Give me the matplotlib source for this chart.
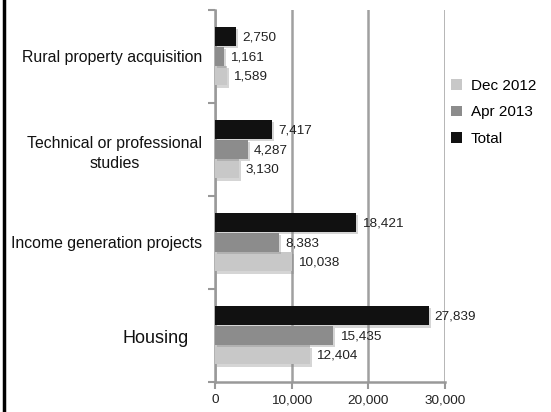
import matplotlib.pyplot as plt
import matplotlib.patheffects as pe
from matplotlib.lines import Line2D
from matplotlib.patches import Patch
import matplotlib.transforms as mtransforms
import numpy as np

plt.rcParams['font.family'] = ['Liberation Sans', 'DejaVu Sans']

categories = ["Housing", "Income generation projects",
              "Technical or professional\nstudies", "Rural property acquisition"]
series_names = ["Dec 2012", "Apr 2013", "Total"]
dec_2012 = [12404, 10038, 3130, 1589]
apr_2013 = [15435, 8383, 4287, 1161]
total = [27839, 18421, 7417, 2750]
x_ticks = [0, 10000, 20000, 30000]
x_tick_labels = ["0", "10,000", "20,000", "30,000"]

colors = ["#c8c8c8", "#8c8c8c", "#111111"]
offsets = [-0.21, 0.0, 0.21]
bar_h = 0.205

fig = plt.figure(figsize=(5.51, 4.12), dpi=100)
ax = fig.add_axes([0.390, 0.073, 0.418, 0.903])

y = np.arange(len(categories))
shadow = [pe.SimplePatchShadow(offset=(1.5, -1.5), shadow_rgbFace='#888888', alpha=0.35), pe.Normal()]
for vals, col, off in zip([dec_2012, apr_2013, total], colors, offsets):
    bars = ax.barh(y + off, vals, height=bar_h, color=col, zorder=3)
    for b, v in zip(bars, vals):
        b.set_path_effects(shadow)
        ax.text(v + 800, b.get_y() + b.get_height() / 2 - 0.01, f"{v:,}",
                ha='left', va='center', fontsize=9.7, color='#222222', zorder=4)

ax.set_xlim(0, 30000)
ax.set_ylim(-0.5, 3.5)
ax.set_xticks(x_ticks)
ax.set_xticklabels(x_tick_labels, fontsize=9.7, color='#222222')
ax.set_yticks(y)
ax.set_yticklabels([""] + categories[1:], fontsize=11.4, color='#111111')
for lbl in ax.get_yticklabels():
    lbl.set_multialignment('center')
    lbl.set_linespacing(1.4)
# the bottom category gets a bigger label, set a little further left
trans = mtransforms.blended_transform_factory(ax.transAxes, ax.transData)
ax.text(-0.115, y[0] - 0.03, categories[0], transform=trans, ha='right', va='center',
        fontsize=13, color='#111111')
ax.set_yticks(np.arange(-0.5, 4, 1), minor=True)
ax.tick_params(axis='y', which='major', length=0, pad=9)
ax.tick_params(axis='y', which='minor', length=5, width=1.5, color='#999999')
ax.tick_params(axis='x', length=5, width=1.5, color='#999999', pad=4)

ax.grid(axis='x', color='#a0a0a0', linewidth=1.8, zorder=0)
for s in ['top', 'right']:
    ax.spines[s].set_visible(False)
for s in ['left', 'bottom']:
    ax.spines[s].set_color('#999999')
    ax.spines[s].set_linewidth(1.8)

handles = [Patch(facecolor=c) for c in colors]
fig.legend(handles, series_names, loc='upper left', bbox_to_anchor=(0.818, 0.808),
           frameon=False, fontsize=11, handlelength=0.72, handleheight=0.72,
           handletextpad=0.6, labelspacing=0.8, borderpad=0, borderaxespad=0)

# black rule along the left edge of the figure
fig.add_artist(Line2D([0.007, 0.007], [0, 1], color='black', linewidth=2.5,
                      transform=fig.transFigure))

fig.savefig("out.png", dpi=100)
